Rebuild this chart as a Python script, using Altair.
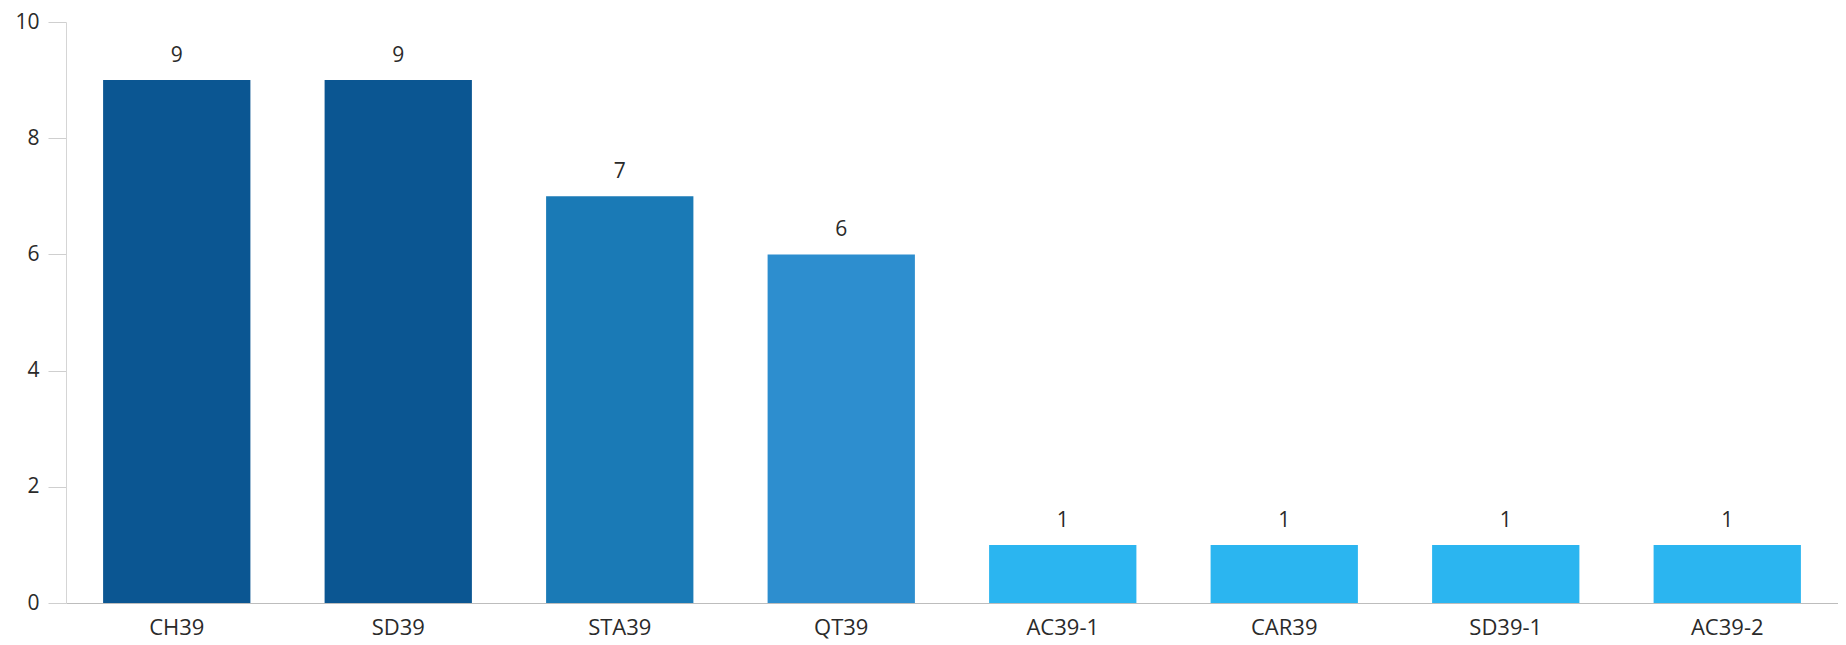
import altair as alt
import pandas as pd

categories = ["CH39", "SD39", "STA39", "QT39", "AC39-1", "CAR39", "SD39-1", "AC39-2"]
values = [9, 9, 7, 6, 1, 1, 1, 1]
colors = ["#0b5692", "#0b5692", "#1a7ab6", "#2d8ecf", "#2bb5f0", "#2bb5f0", "#2bb5f0", "#2bb5f0"]
y_ticks = [0, 2, 4, 6, 8, 10]

df = pd.DataFrame({"cat": categories, "val": values, "col": colors})

FONT = "Open Sans"

x = alt.X("cat:N", sort=categories, title=None,
          scale=alt.Scale(paddingInner=0.335, paddingOuter=0.1675),
          axis=alt.Axis(labelAngle=0, ticks=False, domainColor="#bdbdbd", domainWidth=1.2,
                        labelFontSize=22, labelColor="#2a2a2a", labelFont=FONT,
                        labelPadding=14))
y = alt.Y("val:Q", title=None,
          scale=alt.Scale(domain=[0, 10]),
          axis=alt.Axis(values=y_ticks, grid=False, tickSize=18, tickColor="#cfcfcf",
                        domainColor="#d5d5d5", labelFontSize=21, labelColor="#2a2a2a",
                        labelFont=FONT, labelPadding=9, format="d"))

bars = alt.Chart(df).mark_bar().encode(
    x=x, y=y, color=alt.Color("col:N", scale=None)
)

labels = alt.Chart(df).mark_text(
    baseline="alphabetic", dy=-18, fontSize=21, font=FONT, color="#2a2a2a"
).encode(
    x=alt.X("cat:N", sort=categories),
    y=alt.Y("val:Q"),
    text=alt.Text("val:Q", format="d"),
)

chart = (bars + labels).properties(
    width=1772, height=581,
    autosize=alt.AutoSizeParams(type="none"),
    padding={"left": 58, "top": 14, "right": 0, "bottom": 42},
).configure(background="white").configure_view(stroke=None)

chart.save("out.html", embed_options={"renderer": "svg", "actions": False})
